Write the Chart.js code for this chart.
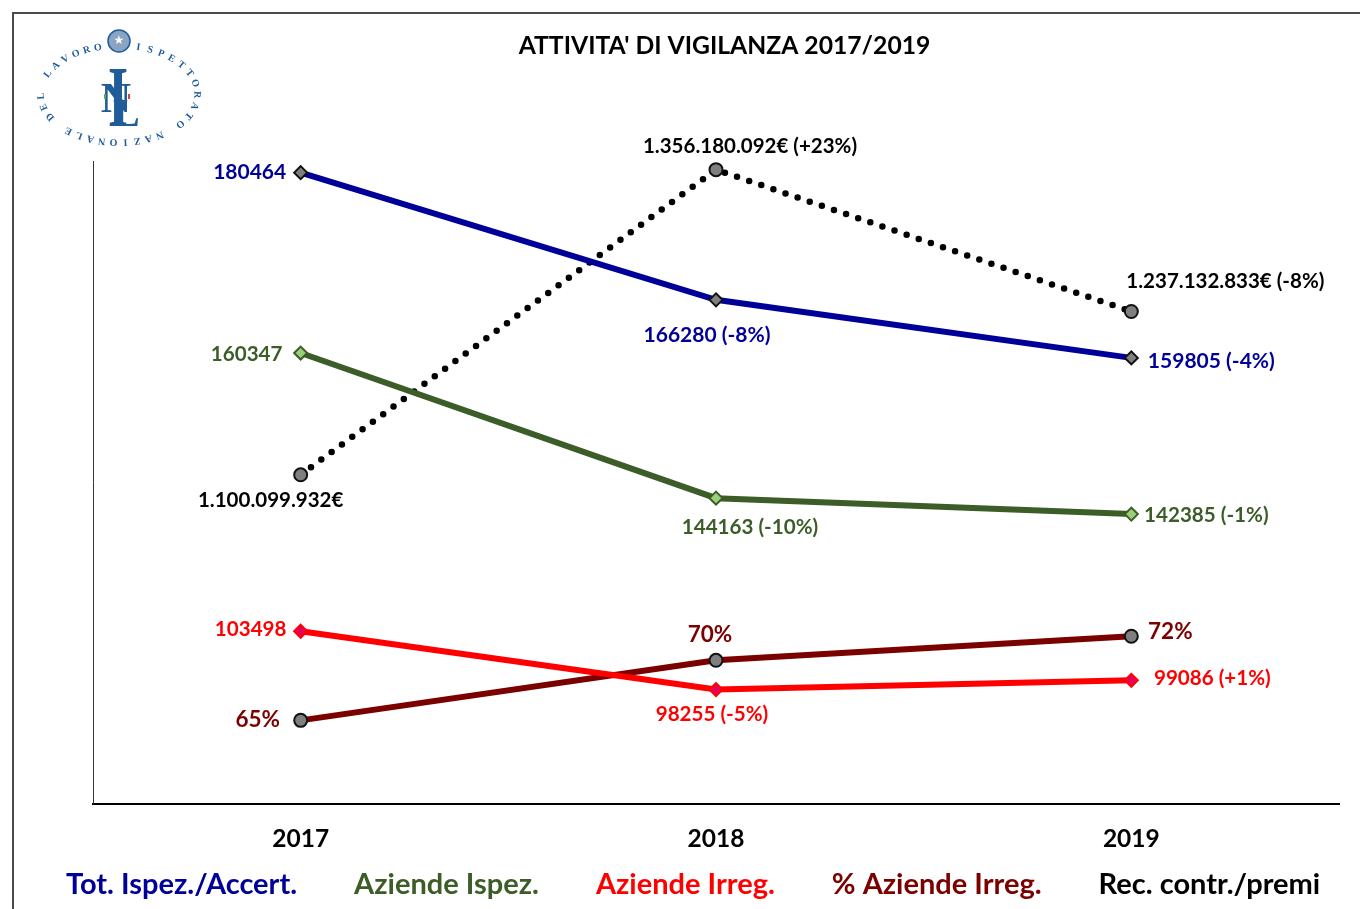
<!DOCTYPE html>
<html><head><meta charset="utf-8">
<style>html,body{margin:0;padding:0;background:#fff;overflow:hidden}
#w{position:relative;width:1360px;height:909px}canvas{display:block;filter:blur(0.4px)}</style>
<script src="https://cdn.jsdelivr.net/npm/chart.js@4"></script></head>
<body><div id="w"><canvas id="c" width="1360" height="909"></canvas></div>
<script>
const categories = ['2017','2018','2019'];
const chartTitle = "ATTIVITA' DI VIGILANZA 2017/2019";
const totIspez = [180464,166280,159805];
const aziendeIspez = [160347,144163,142385];
const aziendeIrreg = [103498,98255,99086];
const pctIrreg = [65,70,72];
const recContr = [1100099932,1356180092,1237132833];
const lblTot = ['180464','166280 (-8%)','159805 (-4%)'];
const lblIspez = ['160347','144163 (-10%)','142385 (-1%)'];
const lblIrreg = ['103498','98255 (-5%)','99086 (+1%)'];
const lblPct = ['65%','70%','72%'];
const lblRec = ['1.100.099.932€','1.356.180.092€ (+23%)','1.237.132.833€ (-8%)'];
const offTot = [[-51,0],[-9,35],[80,3]];
const offIspez = [[-54,1],[34,29],[75,1]];
const offIrreg = [[-50,-2],[-4,25],[81,-2]];
const offPct = [[-43,-1],[-6,-26],[39,-4]];
const offRec = [[-30,26],[34,-23],[94,-30]];
const FONT = 'Lato, Carlito, sans-serif';

const labelPlugin = {id:'labels',afterDatasetsDraw(ch){
  const g=ch.ctx; g.save(); g.textAlign='center'; g.textBaseline='middle';
  ch.data.datasets.forEach((d,i)=>{
    const pts=ch.getDatasetMeta(i).data;
    d.valueLabels.forEach((t,k)=>{
      g.font='bold '+d.labelSize+'px '+FONT; g.fillStyle=d.labelColor;
      g.fillText(t,pts[k].x+d.labelOff[k][0],pts[k].y+d.labelOff[k][1]);
    });
  });
  g.restore();
}};

function drawLogo(g){
  g.save();
  const blue='#1f5c99', cx=119, cy=94, rx=78, ry=48;
  g.fillStyle=blue; g.textAlign='center'; g.textBaseline='middle';
  const txt='ISPETTORATO NAZIONALE DEL LAVORO';
  g.font='bold 10px "Liberation Serif", serif';
  const a0=-1.32, a1=4.44, N=720;
  let table=[0];
  for(let i=1;i<=N;i++){
    const p=a0+(a1-a0)*(i-1)/N,q=a0+(a1-a0)*i/N;
    table.push(table[i-1]+Math.hypot(rx*(Math.cos(q)-Math.cos(p)),ry*(Math.sin(q)-Math.sin(p))));
  }
  [...txt].forEach((c,i)=>{
    const s=table[N]*i/(txt.length-1);
    let j=0; while(j<N&&table[j]<s) j++;
    const a=a0+(a1-a0)*j/N;
    const x=cx+rx*Math.cos(a), y=cy+ry*Math.sin(a);
    const tan=Math.atan2(ry*Math.cos(a),-rx*Math.sin(a));
    g.save(); g.translate(x,y); g.rotate(tan); g.fillText(c,0,0); g.restore();
  });
  g.fillStyle='#8aa5c4'; g.strokeStyle=blue; g.lineWidth=1.5;
  g.beginPath(); g.arc(119,41,11,0,7); g.fill(); g.stroke();
  g.fillStyle='#fff'; g.font='12px "DejaVu Sans"'; g.fillText('★',119,41);
  g.fillStyle=blue; g.textBaseline='alphabetic';
  g.font='bold 42px "Liberation Serif", serif'; g.fillText('N',116,112);
  g.save(); g.translate(118,126); g.scale(0.6,1);
  g.font='bold 86px "Liberation Serif", serif'; g.fillText('I',0,0); g.restore();
  g.textAlign='left';
  g.font='bold 40px "Liberation Serif", serif'; g.fillText('L',113,126);
  g.fillStyle='#4caf50'; g.fillRect(104,94,2,5);
  g.fillStyle='#e04040'; g.fillRect(128,94,2,5);
  g.restore();
}

const framePlugin = {id:'frame',beforeDraw(ch){
  const g=ch.ctx; g.save();
  g.strokeStyle='#4a4a4a'; g.lineWidth=2;
  g.beginPath(); g.moveTo(13,909); g.lineTo(13,13); g.lineTo(1360,13); g.stroke();
  g.restore();
},afterDraw(ch){ drawLogo(ch.ctx); }};

function ds(label,data,axis,color,ptFill,ptBorder,style,radius,valueLabels,labelOff,labelSize,extra){
  return Object.assign({label,data,yAxisID:axis,borderColor:color,borderWidth:6,backgroundColor:color,
    pointStyle:style,pointRadius:radius,pointBackgroundColor:ptFill,pointBorderColor:ptBorder,pointBorderWidth:2,
    tension:0,fill:false,valueLabels,labelOff,labelSize,labelColor:color,clip:false},extra||{});
}
new Chart(document.getElementById('c'),{
  type:'line',
  data:{labels:categories,datasets:[
    ds('Tot. Ispez./Accert.',totIspez,'y',"#000099",'#7f7f7f','#111','rectRot',6.5,lblTot,offTot,21),
    ds('Aziende Ispez.',aziendeIspez,'y',"#3c5c28",'#9bd07a','#3c5c28','rectRot',6.5,lblIspez,offIspez,20.6),
    ds('Aziende Irreg.',aziendeIrreg,'yIrreg',"#ff0000",'#e6005c','#ff0000','rectRot',6.5,lblIrreg,offIrreg,20.6),
    ds('% Aziende Irreg.',pctIrreg,'yPct',"#7b0000",'#7f7f7f','#111','circle',6.5,lblPct,offPct,22.5),
    ds('Rec. contr./premi',recContr,'yRec',"#000000",'#7f7f7f','#111','circle',6.5,lblRec,offRec,20.5,
       {borderDash:[0,12.8],borderCapStyle:'round',borderWidth:6.5})
  ]},
  options:{
    responsive:false,animation:false,
    layout:{padding:{left:9,right:-80,top:0,bottom:0}},
    scales:{
      x:{offset:true,grid:{display:false,drawTicks:false},border:{display:true,color:'#000',width:2},
         ticks:{color:'#000',font:{family:FONT,weight:'bold',size:24.5},mirror:true,padding:-50,maxRotation:0},
         afterFit(s){s.height=24}},
      y:{position:'left',min:110112,max:181692,grid:{display:false,drawTicks:false},
         border:{display:true,color:'#333',width:1},ticks:{display:false},
         afterFit(s){s.width=84}},
      yIrreg:{display:false,min:88002,max:145750},
      yPct:{display:false,min:58.08,max:111.5},
      yRec:{position:'right',min:824.2e6,max:1362.9e6,grid:{display:false,drawTicks:false},
         border:{display:false},ticks:{display:false},afterFit(s){s.width=101}}
    },
    plugins:{
      title:{display:true,text:chartTitle,color:'#000',font:{family:FONT,weight:'bold',size:24.7},
        padding:{top:31,bottom:101}},
      legend:{position:'bottom',align:'start',labels:{boxWidth:0,boxHeight:0,padding:42.5,
        font:{family:FONT,weight:'bold',size:29},
        generateLabels(ch){return ch.data.datasets.map((d,i)=>({text:d.label,fontColor:d.labelColor,
          fillStyle:'transparent',strokeStyle:'transparent',lineWidth:0,datasetIndex:i}))}}},
      tooltip:{enabled:false}
    }
  },
  plugins:[framePlugin,labelPlugin]
});
</script></body></html>
